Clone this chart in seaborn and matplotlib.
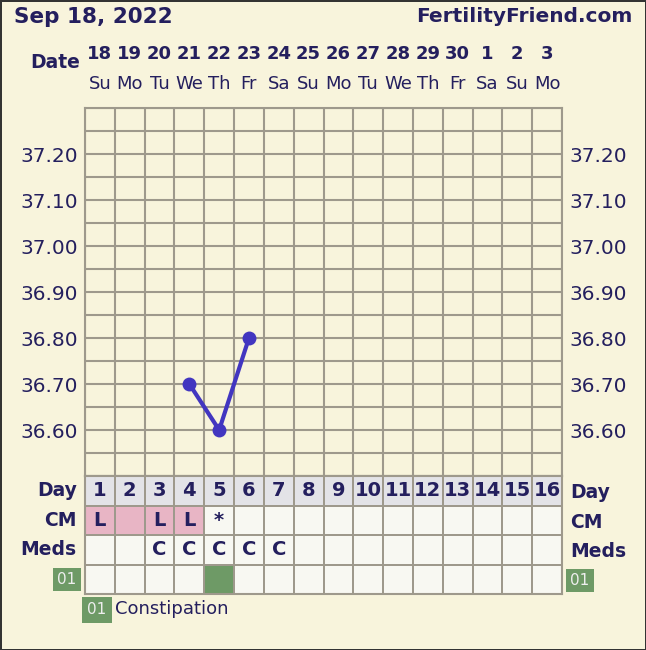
import numpy as np
import pandas as pd
import seaborn as sns
import matplotlib.pyplot as plt
from matplotlib.colors import ListedColormap
import matplotlib.transforms as mtransforms

# chart data
days = list(range(1, 17))
dates = ["18", "19", "20", "21", "22", "23", "24", "25", "26", "27", "28", "29", "30", "1", "2", "3"]
weekdays = ["Su", "Mo", "Tu", "We", "Th", "Fr", "Sa", "Su", "Mo", "Tu", "We", "Th", "Fr", "Sa", "Su", "Mo"]
temp_days = [4, 5, 6]
temps = [36.70, 36.60, 36.80]
temp_ticks = [36.60, 36.70, 36.80, 36.90, 37.00, 37.10, 37.20]
cm = ["L", "", "L", "L", "*", "", "", "", "", "", "", "", "", "", "", ""]
cm_pink = [1, 1, 1, 1, 0, 0, 0, 0, 0, 0, 0, 0, 0, 0, 0, 0]
meds = ["", "", "C", "C", "C", "C", "C", "", "", "", "", "", "", "", "", ""]
symptom = [0, 0, 0, 0, 1, 0, 0, 0, 0, 0, 0, 0, 0, 0, 0, 0]
row_labels = ["Day", "CM", "Meds", "01"]
legend_code = "01"
legend_text = "Constipation"

bg = "#F8F4DC"
navy = "#241F5E"
grid_c = "#9E998C"
line_c = "#4236C0"
green = "#6E9A66"

sns.set_style("white")
plt.rcParams['font.family'] = ['DejaVu Sans']

W, H = 646, 650
fig = plt.figure(figsize=(W / 100, H / 100), dpi=100)
fig.patch.set_facecolor(bg)
fig.patch.set_edgecolor("#333333")
fig.patch.set_linewidth(2)

def px_axes(x0, y0, x1, y1):
    return fig.add_axes([x0 / W, 1 - y1 / H, (x1 - x0) / W, (y1 - y0) / H])

# temperature chart
ax = px_axes(85, 108, 562, 476)
ax.set_facecolor(bg)
ax.set_xlim(0.5, 16.5)
ax.set_ylim(36.5, 37.3)
ax.set_xticks(np.arange(0.5, 17, 1), minor=True)
ax.set_yticks(np.arange(36.5, 37.31, 0.05), minor=True)
ax.yaxis.remove_overlapping_locs = False
ax.grid(which="minor", color=grid_c, linewidth=1.5)
ax.set_xticks([])
ax.set_yticks(temp_ticks)
ax.set_yticklabels([f"{t:.2f}" for t in temp_ticks])
ax.tick_params(axis="y", which="both", length=0, labelsize=14.5, labelcolor=navy,
               labelleft=True, labelright=True, pad=5)
ax.tick_params(axis="x", which="both", length=0)
for s in ax.spines.values():
    s.set_color(grid_c)
    s.set_linewidth(1.5)

df = pd.DataFrame({"day": temp_days, "temp": temps})
sns.lineplot(data=df, x="day", y="temp", ax=ax, color=line_c, linewidth=3,
             marker="o", markersize=10, markeredgewidth=0, zorder=5)
ax.set_xlabel("")
ax.set_ylabel("")

# date header
trans = mtransforms.blended_transform_factory(ax.transData, ax.transAxes)
for d, dt, wd in zip(days, dates, weekdays):
    ax.text(d, 1.147, dt, transform=trans, ha="center", va="center",
            fontsize=13, fontweight="bold", color=navy)
    ax.text(d, 1.065, wd, transform=trans, ha="center", va="center",
            fontsize=13, color=navy)
ax.text(-0.063, 1.125, "Date", transform=ax.transAxes, ha="center", va="center",
        fontsize=13.5, fontweight="bold", color=navy)

fig.text(14 / W, 1 - 17 / H, "Sep 18, 2022", ha="left", va="center",
         fontsize=15.5, fontweight="bold", color=navy)
fig.text(632 / W, 1 - 17 / H, "FertilityFriend.com", ha="right", va="center",
         fontsize=14.5, fontweight="bold", color=navy)

# table under chart
codes = np.array([
    [0] * 16,
    [2 if p else 1 for p in cm_pink],
    [1] * 16,
    [3 if s else 1 for s in symptom],
])
annot = np.array([
    [str(d) for d in days],
    cm,
    meds,
    [""] * 16,
], dtype=object)
cmap = ListedColormap(["#E3E3E7", "#F8F8F2", "#E8B5C5", green])

tax = px_axes(85, 476, 562, 594)
sns.heatmap(codes, ax=tax, cmap=cmap, vmin=-0.5, vmax=3.5, cbar=False,
            annot=annot, fmt="", linewidths=1.2, linecolor=grid_c,
            annot_kws={"color": navy, "fontsize": 14, "fontweight": "bold"},
            xticklabels=False)
tax.set_yticks(np.arange(len(row_labels)) + 0.5)
tax.set_yticklabels(row_labels, rotation=0)
tax.tick_params(axis="y", length=0, labelleft=True, labelright=True, pad=6)
for tick in tax.yaxis.get_major_ticks():
    for lab in (tick.label1, tick.label2):
        if lab.get_text() == "01":
            lab.set_color("#EEEEEE")
            lab.set_fontsize(11)
            lab.set_bbox(dict(facecolor=green, edgecolor="none", pad=3))
        else:
            lab.set_color(navy)
            lab.set_fontsize(13.5)
            lab.set_fontweight("bold")
for s in tax.spines.values():
    s.set_visible(True)
    s.set_color(grid_c)
    s.set_linewidth(1.5)

# symptom legend
fig.text(97 / W, 1 - 610 / H, legend_code, ha="center", va="center", fontsize=11,
         color="#EEEEEE", bbox=dict(facecolor=green, edgecolor="none", pad=4))
fig.text(115 / W, 1 - 609 / H, legend_text, ha="left", va="center", fontsize=13,
         color=navy)

plt.savefig("out.png", dpi=100, facecolor=fig.get_facecolor(), edgecolor=fig.get_edgecolor())
